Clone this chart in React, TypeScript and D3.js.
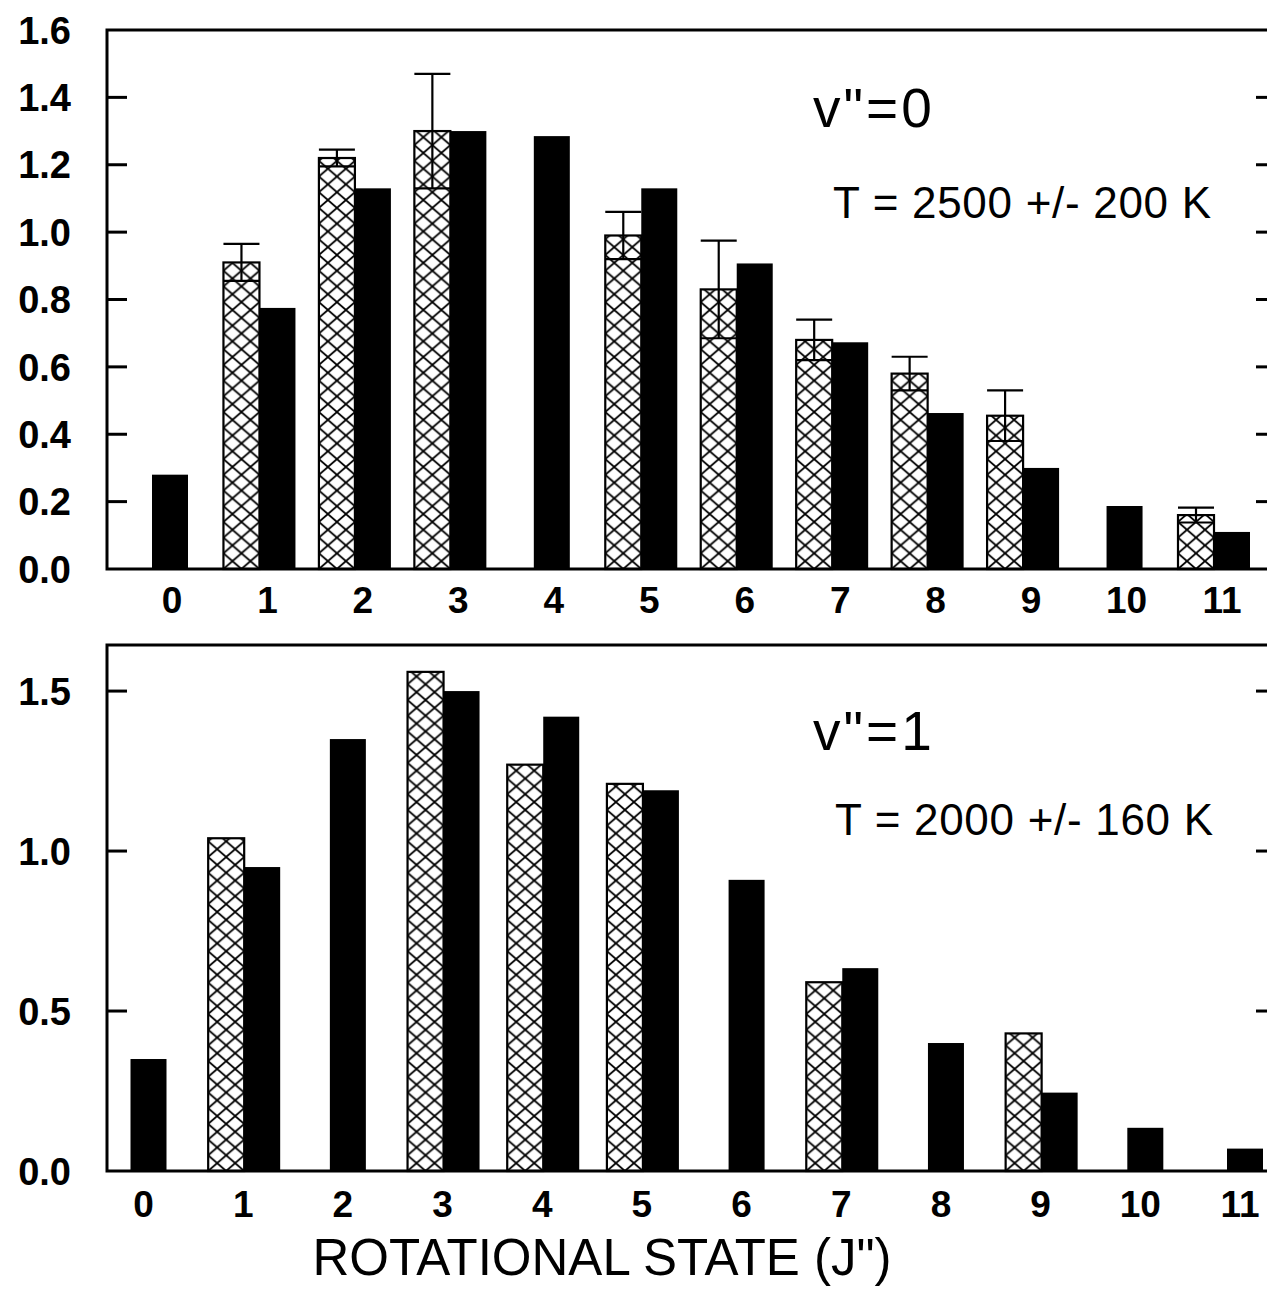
import React, { useEffect, useRef } from "react";
import * as d3 from "d3";

// rotational states J"
const states = [0, 1, 2, 3, 4, 5, 6, 7, 8, 9, 10, 11];

// v"=0 : measured (hatched) with error, and fit (black)
const v0Measured = [null, 0.91, 1.22, 1.3, null, 0.99, 0.83, 0.68, 0.58, 0.455, null, 0.16];
const v0Error = [null, 0.055, 0.025, 0.17, null, 0.07, 0.145, 0.06, 0.05, 0.075, null, 0.022];
const v0Fit = [0.28, 0.775, 1.13, 1.3, 1.285, 1.13, 0.907, 0.673, 0.463, 0.3, 0.187, 0.11];
const v0Ticks = [0, 0.2, 0.4, 0.6, 0.8, 1.0, 1.2, 1.4, 1.6];

// v"=1
const v1Measured = [null, 1.04, null, 1.56, 1.27, 1.21, null, 0.59, null, 0.43, null, null];
const v1Fit = [0.35, 0.95, 1.35, 1.5, 1.42, 1.19, 0.91, 0.634, 0.4, 0.245, 0.135, 0.07];
const v1Ticks = [0, 0.5, 1.0, 1.5];

const FONT = "'Liberation Sans', Arial, Helvetica, sans-serif";
const BAR_W = 36;
const HATCH_W = 18;
const HATCH_H = 15.7;

const panels = [
  {
    id: "p0", measured: v0Measured, error: v0Error, fit: v0Fit, ticks: v0Ticks,
    yMax: 1.6, top: 30, bottom: 569, xFirst: 172, xLast: 1222,
    pairShift: -8, singleShift: -2, tickLabelY: 613,
    level: 'v"=0', temp: "T = 2500 +/- 200 K", levelX: 813, levelY: 127, tempX: 833, tempY: 218,
  },
  {
    id: "p1", measured: v1Measured, error: null, fit: v1Fit, ticks: v1Ticks,
    yMax: 1.644, top: 645, bottom: 1171, xFirst: 143.5, xLast: 1240,
    pairShift: 1, singleShift: 5, tickLabelY: 1217,
    level: 'v"=1', temp: "T = 2000 +/- 160 K", levelX: 813, levelY: 750, tempX: 835, tempY: 835,
  },
];

export default function App() {
  const svgRef = useRef<SVGSVGElement>(null);

  useEffect(() => {
    document.body.style.margin = "0";
    const svg = d3.select(svgRef.current);
    svg.selectAll("*").remove();
    const defs = svg.append("defs");

    const left = 107;
    const right = 1276;

    panels.forEach((p) => {
      const x = d3.scaleLinear().domain([0, 11]).range([p.xFirst, p.xLast]);
      const y = d3.scaleLinear().domain([0, p.yMax]).range([p.bottom, p.top]);
      const g = svg.append("g");

      // bars
      states.forEach((j, i) => {
        const m = p.measured[i];
        const f = p.fit[i];
        const cx = x(j);
        if (m == null) {
          g.append("rect")
            .attr("x", cx + p.singleShift - BAR_W / 2)
            .attr("y", y(f))
            .attr("width", BAR_W)
            .attr("height", y(0) - y(f))
            .attr("fill", "#000");
          return;
        }
        const x0 = cx + p.pairShift - BAR_W;
        const pid = `hatch-${p.id}-${j}`;
        const pat = defs.append("pattern")
          .attr("id", pid)
          .attr("patternUnits", "userSpaceOnUse")
          .attr("x", x0).attr("y", y(0))
          .attr("width", HATCH_W).attr("height", HATCH_H);
        pat.append("rect").attr("width", HATCH_W).attr("height", HATCH_H).attr("fill", "#fff");
        pat.append("path")
          .attr("d", `M0,0L${HATCH_W},${HATCH_H}M${HATCH_W},0L0,${HATCH_H}`)
          .attr("stroke", "#000").attr("stroke-width", 1.8).attr("fill", "none");

        g.append("rect")
          .attr("x", x0)
          .attr("y", y(m))
          .attr("width", BAR_W)
          .attr("height", y(0) - y(m))
          .attr("fill", `url(#${pid})`)
          .attr("stroke", "#000")
          .attr("stroke-width", 2.2);

        g.append("rect")
          .attr("x", x0 + BAR_W)
          .attr("y", y(f))
          .attr("width", BAR_W)
          .attr("height", y(0) - y(f))
          .attr("fill", "#000");

        const e = p.error ? p.error[i] : null;
        if (e != null) {
          const mid = x0 + BAR_W / 2;
          const eb = g.append("g").attr("stroke", "#000").attr("stroke-width", 2.2).attr("fill", "none");
          eb.append("line").attr("x1", x0).attr("x2", x0 + BAR_W).attr("y1", y(m + e)).attr("y2", y(m + e));
          eb.append("line").attr("x1", mid).attr("x2", mid).attr("y1", y(m + e)).attr("y2", y(m - e));
          eb.append("line").attr("x1", x0).attr("x2", x0 + BAR_W).attr("y1", y(m - e)).attr("y2", y(m - e));
        }
      });

      // frame
      g.append("path")
        .attr("d", `M${right},${p.top}H${left}V${p.bottom}H${right}`)
        .attr("fill", "none").attr("stroke", "#000").attr("stroke-width", 3);

      // ticks, inside on both sides
      const fmt = d3.format(".1f");
      p.ticks.forEach((t) => {
        if (t > 0 && t < p.yMax - 0.01) {
          g.append("line").attr("x1", left).attr("x2", left + 20)
            .attr("y1", y(t)).attr("y2", y(t)).attr("stroke", "#000").attr("stroke-width", 3);
          g.append("line").attr("x1", right - 20).attr("x2", right)
            .attr("y1", y(t)).attr("y2", y(t)).attr("stroke", "#000").attr("stroke-width", 3);
        }
        g.append("text")
          .attr("x", 71).attr("y", y(t)).attr("dy", "0.36em")
          .attr("text-anchor", "end")
          .attr("font-family", FONT).attr("font-weight", "bold").attr("font-size", 38)
          .text(fmt(t));
      });

      // x tick labels
      states.forEach((j) => {
        g.append("text")
          .attr("x", x(j)).attr("y", p.tickLabelY)
          .attr("text-anchor", "middle")
          .attr("font-family", FONT).attr("font-weight", "bold").attr("font-size", 37)
          .text(String(j));
      });

      // annotations
      g.append("text")
        .attr("x", p.levelX).attr("y", p.levelY)
        .attr("font-family", FONT).attr("font-size", 55).attr("letter-spacing", 3)
        .text(p.level);
      g.append("text")
        .attr("x", p.tempX).attr("y", p.tempY)
        .attr("font-family", FONT).attr("font-size", 44).attr("letter-spacing", 0.7)
        .text(p.temp);
    });

    svg.append("text")
      .attr("x", 602).attr("y", 1275)
      .attr("text-anchor", "middle")
      .attr("font-family", FONT).attr("font-size", 51)
      .text('ROTATIONAL STATE (J")');
  }, []);

  return (
    <svg ref={svgRef} width={1267} height={1289} style={{ display: "block", background: "#fff" }} />
  );
}
